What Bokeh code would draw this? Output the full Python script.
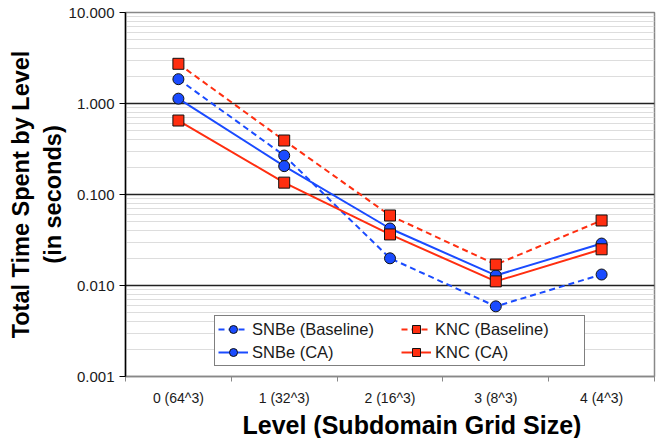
from bokeh.plotting import figure
from bokeh.models import FixedTicker, Range1d, Legend, LegendItem, CustomJSTickFormatter, Title
from bokeh.embed import file_html
from bokeh.resources import INLINE

levels = ["0 (64^3)", "1 (32^3)", "2 (16^3)", "3 (8^3)", "4 (4^3)"]
snbe_baseline = [1.85, 0.268, 0.0199, 0.0059, 0.0132]
snbe_ca = [1.13, 0.205, 0.0423, 0.0129, 0.0289]
knc_baseline = [2.73, 0.392, 0.0588, 0.0170, 0.0518]
knc_ca = [0.65, 0.135, 0.0364, 0.0111, 0.0250]
y_major = [0.001, 0.01, 0.1, 1, 10]

BLUE = "#1A4BFF"
RED = "#FF2E10"
FONT = "Liberation Sans"

x = list(range(len(levels)))

p = figure(frame_width=529, frame_height=364,
           x_range=Range1d(-0.5, len(levels) - 0.5),
           y_range=Range1d(y_major[0], y_major[-1]),
           y_axis_type="log",
           output_backend="svg", toolbar_location=None,
           min_border_left=125, min_border_right=3,
           min_border_top=12, min_border_bottom=58)
p.background_fill_color = "white"
p.border_fill_color = "white"
p.outline_line_color = "#888888"
p.outline_line_width = 1.5

# y axis
y_minor = [m * 10.0 ** k for k in range(-3, 1) for m in range(2, 10)]
yt = FixedTicker(ticks=y_major, minor_ticks=y_minor)
p.yaxis.ticker = yt
p.ygrid.ticker = yt
p.yaxis.formatter = CustomJSTickFormatter(code="return tick.toFixed(3);")
p.yaxis.axis_line_color = "black"
p.yaxis.axis_line_width = 1.5
p.yaxis.major_tick_line_color = "black"
p.yaxis.major_tick_out = 6
p.yaxis.major_tick_in = 0
p.yaxis.minor_tick_line_color = None
p.yaxis.major_label_text_font = FONT
p.yaxis.major_label_text_font_size = "15px"
p.yaxis.major_label_text_color = "#1a1a1a"
p.yaxis.major_label_standoff = 5
p.yaxis.axis_label = "Total Time Spent by Level\n(in seconds)"
p.yaxis.axis_label_text_font = FONT
p.yaxis.axis_label_text_font_style = "bold"
p.yaxis.axis_label_text_font_size = "23.5px"
p.yaxis.axis_label_text_line_height = 1.2
p.yaxis.axis_label_text_color = "black"
p.yaxis.axis_label_standoff = 0

p.ygrid.grid_line_color = "#222222"
p.ygrid.grid_line_width = 1.5
p.ygrid.minor_grid_line_color = "#dddddd"
p.ygrid.minor_grid_line_width = 1

# x axis
xt = FixedTicker(ticks=x, minor_ticks=[i - 0.5 for i in range(len(levels) + 1)])
p.xaxis.ticker = xt
p.xgrid.grid_line_color = None
p.xaxis.major_label_overrides = {i: lab for i, lab in enumerate(levels)}
p.xaxis.major_tick_line_color = None
p.xaxis.major_tick_out = 5
p.xaxis.major_tick_in = 0
p.xaxis.minor_tick_line_color = "#888888"
p.xaxis.minor_tick_out = 5
p.xaxis.minor_tick_in = 0
p.xaxis.axis_line_color = "#888888"
p.xaxis.axis_line_width = 1.5
p.xaxis.major_label_text_font = FONT
p.xaxis.major_label_text_font_size = "14px"
p.xaxis.major_label_text_color = "#1a1a1a"
p.xaxis.major_label_standoff = 8

xtitle = Title(text="Level (Subdomain Grid Size)", align="left", offset=117,
               text_font=FONT, text_font_style="bold", text_font_size="25px",
               text_color="black", standoff=0)
p.add_layout(xtitle, "below")

series = [
    ("SNBe (Baseline)", snbe_baseline, BLUE, "6 4", "circle"),
    ("SNBe (CA)", snbe_ca, BLUE, "solid", "circle"),
    ("KNC (Baseline)", knc_baseline, RED, "6 4", "square"),
    ("KNC (CA)", knc_ca, RED, "solid", "square"),
]
items = []
for name, vals, col, dash, mk in series:
    r1 = p.line(x, vals, line_color=col, line_width=2, line_dash=dash)
    r2 = p.scatter(x, vals, marker=mk, size=11, fill_color=col,
                   line_color="#111111", line_width=1)
    items.append(LegendItem(label=name, renderers=[r1, r2]))

legend = Legend(items=items, location=(89, 10), nrows=2,
                orientation="vertical")
legend.label_text_font = FONT
legend.label_text_font_size = "16.5px"
legend.label_text_color = "#1a1a1a"
legend.border_line_color = "black"
legend.border_line_width = 1.2
legend.background_fill_color = "white"
legend.background_fill_alpha = 1
legend.glyph_width = 30
legend.glyph_height = 20
legend.label_height = 20
legend.label_width = 146
legend.label_standoff = 4
legend.spacing = 3
legend.padding = 3
legend.margin = 0
p.add_layout(legend)

open("out.html", "w").write(file_html(p, INLINE))
